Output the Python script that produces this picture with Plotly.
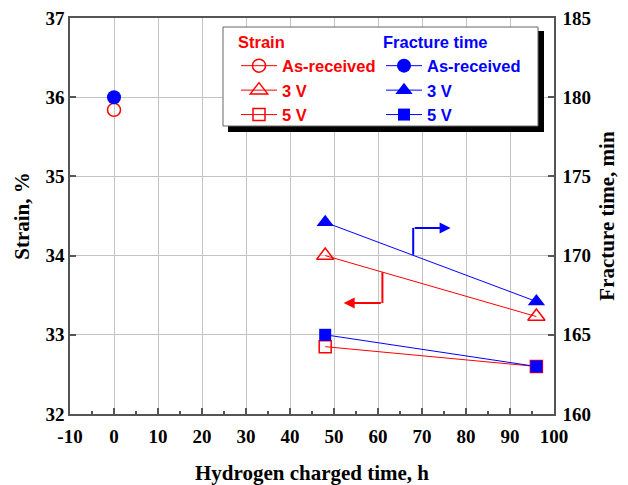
import plotly.graph_objects as go

# Hydrogen charging time (h)
hours_as_received = [0]
hours_charged = [48, 96]

# Elongation to failure (%)
strain_as_received = [35.84]
strain_3v = [34.0, 33.23]
strain_5v = [32.85, 32.6]

# Time to fracture (min)
fracture_as_received = [180]
fracture_3v = [172.1, 167.1]
fracture_5v = [165.0, 163.0]

x_ticks = list(range(-10, 101, 10))
x_tick_text = [str(v) for v in x_ticks]  # plain hyphen for negatives
strain_ticks = [32, 33, 34, 35, 36, 37]
fracture_ticks = [160, 165, 170, 175, 180, 185]

RED = "#ff0000"
BLUE = "#0000ff"
AXIS = "#555555"
SERIF = "Liberation Serif"
SANS = "Liberation Sans"

W, H = 628, 485
M_L, M_R, M_T, M_B = 70, 74, 18, 71
PW, PH = W - M_L - M_R, H - M_T - M_B


def px_x(px):
    return (px - M_L) / PW


def px_y(py):
    return (H - M_B - py) / PH


fig = go.Figure()

strain_series = [
    ("As-received", hours_as_received, strain_as_received, "circle-open", 13),
    ("3 V", hours_charged, strain_3v, "triangle-up-open", 15),
    ("5 V", hours_charged, strain_5v, "square-open", 12),
]
fracture_series = [
    ("As-received", hours_as_received, fracture_as_received, "circle", 14),
    ("3 V", hours_charged, fracture_3v, "triangle-up", 15),
    ("5 V", hours_charged, fracture_5v, "square", 12),
]

for name, xs, ys, sym, size in strain_series:
    fig.add_trace(go.Scatter(
        x=xs, y=ys, name=name, mode="lines+markers",
        line=dict(color=RED, width=1),
        marker=dict(symbol=sym, size=size, color=RED, line=dict(color=RED, width=1.5)),
        legend="legend", yaxis="y",
    ))

for name, xs, ys, sym, size in fracture_series:
    fig.add_trace(go.Scatter(
        x=xs, y=ys, name=name, mode="lines+markers",
        line=dict(color=BLUE, width=1),
        marker=dict(symbol=sym, size=size, color=BLUE, line=dict(width=0)),
        legend="legend2", yaxis="y2",
    ))

# Bent arrows pointing each line to its own axis
blue_arrow = dict(x0=68, y_line=34.01, y_turn=34.35, x_tip=76.5)
red_arrow = dict(x0=61, y_line=33.79, y_turn=33.40, x_tip=52.2)

shapes = []
annotations = []
for arr, col in ((blue_arrow, BLUE), (red_arrow, RED)):
    shapes.append(dict(type="line", xref="x", yref="y",
                       x0=arr["x0"], x1=arr["x0"], y0=arr["y_line"], y1=arr["y_turn"],
                       line=dict(color=col, width=2), layer="above"))
    annotations.append(dict(x=arr["x_tip"], y=arr["y_turn"], ax=arr["x0"], ay=arr["y_turn"],
                            xref="x", yref="y", axref="x", ayref="y", text="",
                            showarrow=True, arrowhead=2, arrowsize=1.1, arrowwidth=2,
                            arrowcolor=col))

# Legend frame with drop shadow
shapes.append(dict(type="rect", xref="paper", yref="paper",
                   x0=px_x(228), x1=px_x(544), y0=px_y(132), y1=px_y(31),
                   fillcolor="black", line=dict(width=0), layer="above"))
shapes.append(dict(type="rect", xref="paper", yref="paper",
                   x0=px_x(223), x1=px_x(538), y0=px_y(126), y1=px_y(27),
                   fillcolor="white", line=dict(color="#666666", width=1), layer="above"))

tick_font = dict(family=SERIF, size=19, color="black", weight="bold")
title_font = dict(family=SERIF, size=21, color="black", weight="bold")
legend_font_size = 16.5

fig.update_layout(
    width=W, height=H,
    margin=dict(l=M_L, r=M_R, t=M_T, b=M_B, autoexpand=False),
    paper_bgcolor="white", plot_bgcolor="white",
    font=dict(family=SERIF),
    shapes=shapes,
    annotations=annotations,
    xaxis=dict(
        range=[-10, 100], tickvals=x_ticks, ticktext=x_tick_text, automargin=False,
        ticks="inside", ticklen=6, tickwidth=1.5, ticklabelstandoff=4,
        tickcolor=AXIS, showline=True, linecolor=AXIS, linewidth=1.5, mirror=True,
        showgrid=True, gridcolor="#c4c4c4", gridwidth=1, zeroline=False,
        minor=dict(dtick=5, ticks="inside", ticklen=3, tickcolor=AXIS, showgrid=False),
        tickfont=tick_font,
        title=dict(text="Hydrogen charged time, h", font=title_font, standoff=20),
    ),
    yaxis=dict(
        range=[32, 37], tickvals=strain_ticks, ticks="inside", ticklen=6, tickwidth=1.5,
        automargin=False,
        tickcolor=AXIS, showline=True, linecolor=AXIS, linewidth=1.5,
        showgrid=True, gridcolor="#c4c4c4", gridwidth=1, zeroline=False,
        tickfont=tick_font,
        title=dict(text="Strain, %", font=title_font, standoff=10),
    ),
    yaxis2=dict(
        range=[160, 185], tickvals=fracture_ticks, ticks="inside", ticklen=6, tickwidth=1.5,
        ticklabelstandoff=3, automargin=False,
        tickcolor=AXIS, showline=True, linecolor=AXIS, linewidth=1.5,
        overlaying="y", side="right", showgrid=False, zeroline=False,
        tickfont=tick_font,
        title=dict(text="Fracture time, min", font=title_font, standoff=9),
    ),
    legend=dict(
        x=px_x(236), y=px_y(27), xanchor="left", yanchor="top",
        bgcolor="rgba(0,0,0,0)", borderwidth=0,
        font=dict(family=SANS, size=legend_font_size, color=RED, weight="bold"),
        title=dict(text="Strain",
                   font=dict(family=SANS, size=legend_font_size, color=RED, weight="bold")),
        itemwidth=36,
    ),
    legend2=dict(
        x=px_x(381), y=px_y(27), xanchor="left", yanchor="top",
        bgcolor="rgba(0,0,0,0)", borderwidth=0,
        font=dict(family=SANS, size=legend_font_size, color=BLUE, weight="bold"),
        title=dict(text="Fracture time",
                   font=dict(family=SANS, size=legend_font_size, color=BLUE, weight="bold")),
        itemwidth=36,
    ),
    showlegend=True,
)

fig.write_html("out.html")
